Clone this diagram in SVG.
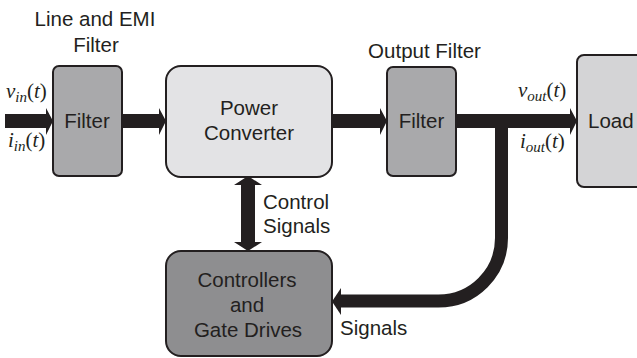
<svg xmlns="http://www.w3.org/2000/svg" width="637" height="358" viewBox="0 0 637 358">
<style>
.box{stroke:#231f20;stroke-width:2}
.lbl{font-size:20.5px;fill:#231f20}
.math{font-size:21px;fill:#231f20}
.it{font-style:italic}
.sub{font-size:15px;font-style:italic}
.arr{fill:#231f20}
</style>
<rect width="637" height="358" fill="#ffffff"/>
<g id="connectors">
  <polygon class="arr" points="5,114 46,114 46,108 53,121 46,135 46,128 5,128"/>
  <polygon class="arr" points="122,114 159,114 159,108 166,121 159,135 159,128 122,128"/>
  <polygon class="arr" points="332,114 380,114 380,108 387,121 380,135 380,128 332,128"/>
  <polygon class="arr" points="456,114 570,114 570,108 577,121 570,135 570,128 456,128"/>
  <path d="M501.5,121 V238 A63,63 0 0 1 438.5,301 H338" fill="none" stroke="#231f20" stroke-width="13"/>
  <polygon class="arr" points="341,288 332,301.5 341,315"/>
  <polygon class="arr" points="248,176 262,185 255,185 255,242 262,242 248,251 234,242 241,242 241,185 234,185"/>
</g>
<g font-family="Liberation Sans, sans-serif">
<g id="line-emi-filter">
  <rect class="box" x="53" y="66" width="69" height="110" rx="6" fill="#a9a9ab"/>
  <text class="lbl" x="87" y="128" text-anchor="middle">Filter</text>
  <text class="lbl" x="95" y="26" text-anchor="middle">Line and EMI</text>
  <text class="lbl" x="96" y="52" text-anchor="middle">Filter</text>
</g>
<g id="power-converter">
  <rect class="box" x="166" y="66" width="166" height="111" rx="15" fill="#e3e3e5"/>
  <text class="lbl" x="249" y="115" text-anchor="middle">Power</text>
  <text class="lbl" x="249" y="140" text-anchor="middle">Converter</text>
</g>
<g id="output-filter">
  <rect class="box" x="387" y="67" width="69" height="109" rx="6" fill="#a9a9ab"/>
  <text class="lbl" x="421.5" y="128" text-anchor="middle">Filter</text>
  <text class="lbl" x="424.5" y="58" text-anchor="middle">Output Filter</text>
</g>
<g id="load">
  <rect class="box" x="577" y="55" width="80" height="132" rx="7" fill="#d4d4d6"/>
  <text class="lbl" x="588" y="128">Load</text>
</g>
<g id="controllers">
  <rect class="box" x="166" y="251" width="166" height="105" rx="15" fill="#8e8e90"/>
  <text class="lbl" x="247" y="287" text-anchor="middle">Controllers</text>
  <text class="lbl" x="247" y="312" text-anchor="middle">and</text>
  <text class="lbl" x="248" y="337" text-anchor="middle">Gate Drives</text>
</g>
<g id="labels">
  <text class="lbl" x="263" y="209">Control</text>
  <text class="lbl" x="263" y="233">Signals</text>
  <text class="lbl" x="340" y="335">Signals</text>
</g>
</g>
<g id="math-labels" font-family="Liberation Serif, serif">
  <text class="math" x="6" y="98"><tspan class="it">v</tspan><tspan class="sub" dy="4">in</tspan><tspan dy="-4">(</tspan><tspan class="it">t</tspan>)</text>
  <text class="math" x="8" y="147"><tspan class="it">i</tspan><tspan class="sub" dy="4">in</tspan><tspan dy="-4">(</tspan><tspan class="it">t</tspan>)</text>
  <text class="math" x="518" y="97"><tspan class="it">v</tspan><tspan class="sub" dy="4">out</tspan><tspan dy="-4">(</tspan><tspan class="it">t</tspan>)</text>
  <text class="math" x="520" y="148"><tspan class="it">i</tspan><tspan class="sub" dy="4">out</tspan><tspan dy="-4">(</tspan><tspan class="it">t</tspan>)</text>
</g>
</svg>
